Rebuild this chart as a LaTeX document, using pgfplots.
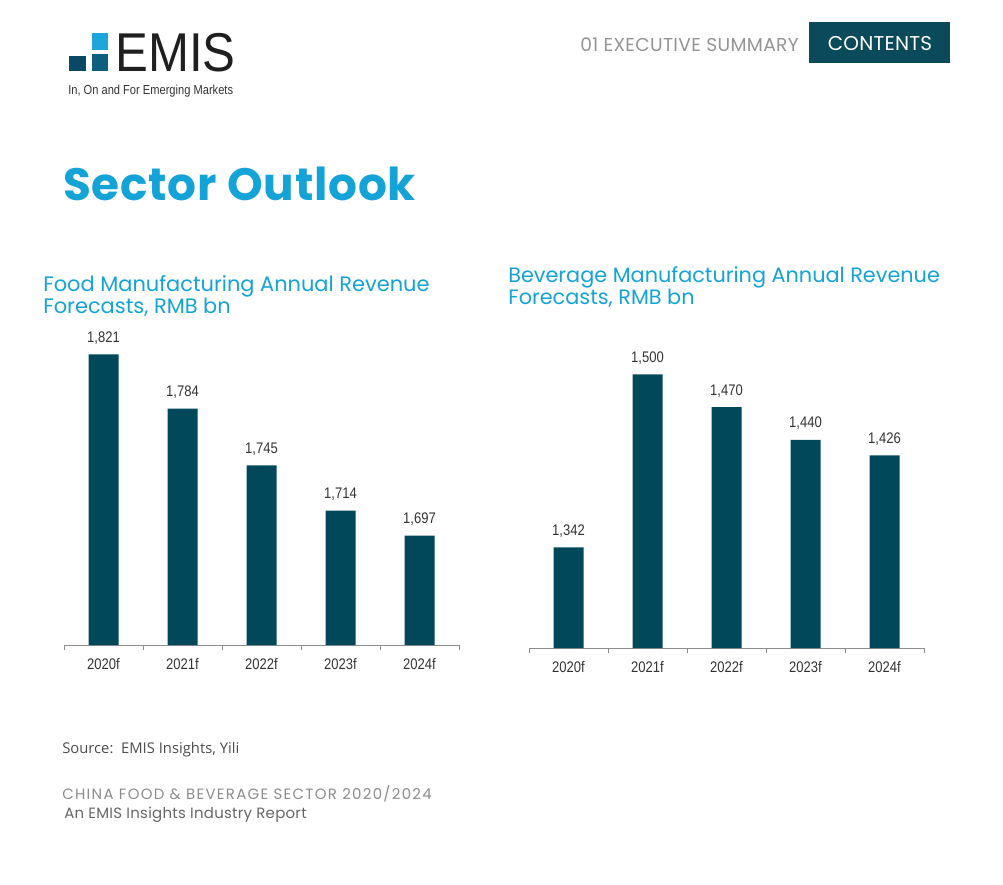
\documentclass[border=0pt]{standalone}
\usepackage{fontspec}
\usepackage{pgfplots}
\pgfplotsset{compat=1.18}
\setmainfont{Liberation Sans}
\newfontfamily\narrow[FakeStretch=0.85]{Liberation Sans}
\newfontfamily\logofont[FakeStretch=0.9]{Liberation Sans}
\newfontfamily\pop{Poppins}
\newfontfamily\osans{Open Sans}
\definecolor{barc}{HTML}{01495A}
\definecolor{cyanT}{HTML}{14A3D7}
\definecolor{logodark}{HTML}{0A4964}
\definecolor{logomid}{HTML}{0E5E7E}
\definecolor{logolight}{HTML}{1DA6D9}
\definecolor{hdr}{HTML}{0B4A5A}
\definecolor{txt}{HTML}{333333}

\pgfplotsset{emisbar/.style={
  scale only axis, width=296.25pt, height=225pt,
  xmin=-0.5, xmax=4.5,
  axis x line*=bottom, axis y line=none,
  axis line style={draw=black!45, line width=0.75pt, -},
  xtick={0,1,2,3,4}, xticklabels={2020f,2021f,2022f,2023f,2024f},
  major tick length=0pt,
  minor xtick={-0.5,0.5,1.5,2.5,3.5,4.5},
  minor tick length=4pt, tick align=outside,
  minor tick style={draw=black!45, line width=0.75pt},
  xticklabel style={font=\narrow\fontsize{11.5}{13}\selectfont, text=txt, yshift=-6.5pt},
  ybar, bar width=22.5pt,
  clip=true, clip mode=individual,
  nodes near coords={\pgfmathprintnumber[assume math mode=true,1000 sep={,}]{\pgfplotspointmeta}},
  every node near coord/.append style={font=\narrow\fontsize{11.5}{13}\selectfont, text=txt, anchor=base, inner sep=0pt, yshift=9pt},
}}

\begin{document}
\begin{tikzpicture}
\path (0pt,0pt) rectangle (752.25pt,-663.75pt);
\begin{scope}[x=0.75pt,y=-0.75pt]
  % logo
  \fill[logolight] (92,33) rectangle (108,50);
  \fill[logomid] (92,54) rectangle (108,71);
  \fill[logodark] (69,56) rectangle (86,71);
  \node[anchor=base west, inner sep=0pt, text=black!88] at (115,71.5)
    {\logofont\fontsize{41}{40}\selectfont EMIS};
  \node[anchor=base west, inner sep=0pt, text=black!80] at (68,94)
    {\narrow\fontsize{9.8}{11}\selectfont In, On and For Emerging Markets};
  % header
  \node[anchor=base west, inner sep=0pt, text=black!42] at (580,51)
    {\pop\fontsize{14}{16}\selectfont\addfontfeature{LetterSpace=1.8}01 EXECUTIVE SUMMARY};
  \fill[hdr] (809,22) rectangle (950,63);
  \node[text=white, inner sep=0pt, anchor=base] at (880,50.5)
    {\pop\fontsize{15}{16}\selectfont\addfontfeature{LetterSpace=1}CONTENTS};
  % title
  \node[anchor=base west, inner sep=0pt, text=cyanT] at (63,200)
    {\pop\bfseries\fontsize{34}{36}\selectfont\addfontfeature{LetterSpace=1.7}Sector Outlook};
  % chart titles
  \node[anchor=base west, inner sep=0pt, text=cyanT] at (43,291)
    {\pop\fontsize{15.7}{17}\selectfont Food Manufacturing Annual Revenue};
  \node[anchor=base west, inner sep=0pt, text=cyanT] at (43,313)
    {\pop\fontsize{15.7}{17}\selectfont Forecasts, RMB bn};
  \node[anchor=base west, inner sep=0pt, text=cyanT] at (508,282)
    {\pop\fontsize{15.6}{17}\selectfont Beverage Manufacturing Annual Revenue};
  \node[anchor=base west, inner sep=0pt, text=cyanT] at (508,304)
    {\pop\fontsize{15.6}{17}\selectfont Forecasts, RMB bn};
  % source and footer
  \node[anchor=base west, inner sep=0pt, text=black!70] at (62,753)
    {\osans\fontsize{11.1}{13}\selectfont Source:\ \ EMIS Insights, Yili};
  \node[anchor=base west, inner sep=0pt, text=black!45] at (62,799)
    {\pop\fontsize{11.2}{13}\selectfont\addfontfeature{LetterSpace=8.8}CHINA FOOD \& BEVERAGE SECTOR 2020/2024};
  \node[anchor=base west, inner sep=0pt, text=black!60] at (64,818)
    {\pop\fontsize{11.2}{13}\selectfont\addfontfeature{LetterSpace=1.8}An EMIS Insights Industry Report};
\end{scope}

\begin{axis}[emisbar, at={(48pt,-483.75pt)}, anchor=south west,
  ymin=1622, ymax=1827.5]
  \addplot[fill=barc, draw=none] coordinates {(0,1821) (1,1784) (2,1745) (3,1714) (4,1697)};
\end{axis}

\begin{axis}[emisbar, at={(396.75pt,-486pt)}, anchor=south west,
  ymin=1250, ymax=1524]
  \addplot[fill=barc, draw=none] coordinates {(0,1342) (1,1500) (2,1470) (3,1440) (4,1426)};
\end{axis}
\end{tikzpicture}
\end{document}
